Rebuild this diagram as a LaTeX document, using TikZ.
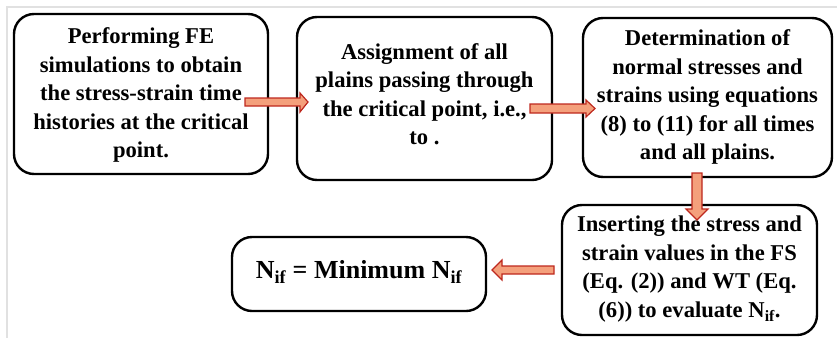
\documentclass[tikz,border=0pt]{standalone}
\usepackage{fontspec}
\setmainfont{Liberation Serif}
\definecolor{arrfill}{RGB}{244,160,124}
\definecolor{arrdraw}{RGB}{190,40,30}
\definecolor{framegray}{RGB}{225,225,225}
\begin{document}
\begin{tikzpicture}[x=1pt,y=-1pt,
  box/.style={draw=black, line width=2.4pt, rounded corners=20pt, inner sep=0pt},
  boxtext/.style={align=center, inner sep=0pt, font=\fontsize{22.6}{28.5}\selectfont\bfseries},
  blockarrow/.style={fill=arrfill, draw=arrdraw, line width=1.2pt, line join=miter}]
\useasboundingbox (0,0) rectangle (837,338);
\draw[framegray, line width=2pt] (837,7) -- (7,7) -- (7,338);
% boxes
\node[box, minimum width=254pt, minimum height=160pt] (b1) at (141,94) {};
\node[boxtext] (t1) at (141,95)
  {Performing FE\\simulations to obtain\\the stress-strain time\\histories at the critical\\point.};
\node[box, minimum width=255pt, minimum height=163pt] (b2) at (424.5,98.5) {};
\node[boxtext] (t2) at (424.5,94)
  {Assignment of all\\plains passing through\\the critical point, i.e.,\\to .};
\node[box, minimum width=249pt, minimum height=159pt] (b3) at (707.5,97.5) {};
\node[boxtext] (t3) at (707.5,97)
  {Determination of\\normal stresses and\\strains using equations\\(8) to (11) for all times\\and all plains.};
\node[box, minimum width=255pt, minimum height=130pt] (b4) at (689.5,270) {};
\node[boxtext] (t4) at (689.5,269)
  {Inserting the stress and\\strain values in the FS\\(Eq. (2)) and WT (Eq.\\(6)) to evaluate N\textsubscript{if}.};
\node[box, minimum width=254pt, minimum height=74pt] (b5) at (359,274) {};
\node[font=\fontsize{26}{32}\selectfont\bfseries, inner sep=0pt] (t5) at (359,272)
  {N\textsubscript{if} = Minimum N\textsubscript{if}};
% block arrows
\draw[blockarrow] (245,98) -- (300,98) -- (300,93) -- (308,102) -- (300,112) -- (300,106) -- (245,106) -- cycle;
\draw[blockarrow] (530,104) -- (586,104) -- (586,100) -- (595,108.5) -- (586,117) -- (586,113) -- (530,113) -- cycle;
\draw[blockarrow] (692,173) -- (692,209) -- (686,209) -- (697,220) -- (708,209) -- (702,209) -- (702,173) -- cycle;
\draw[blockarrow] (554,266) -- (502,266) -- (502,260) -- (492,270) -- (502,280) -- (502,274) -- (554,274) -- cycle;
\end{tikzpicture}
\end{document}
